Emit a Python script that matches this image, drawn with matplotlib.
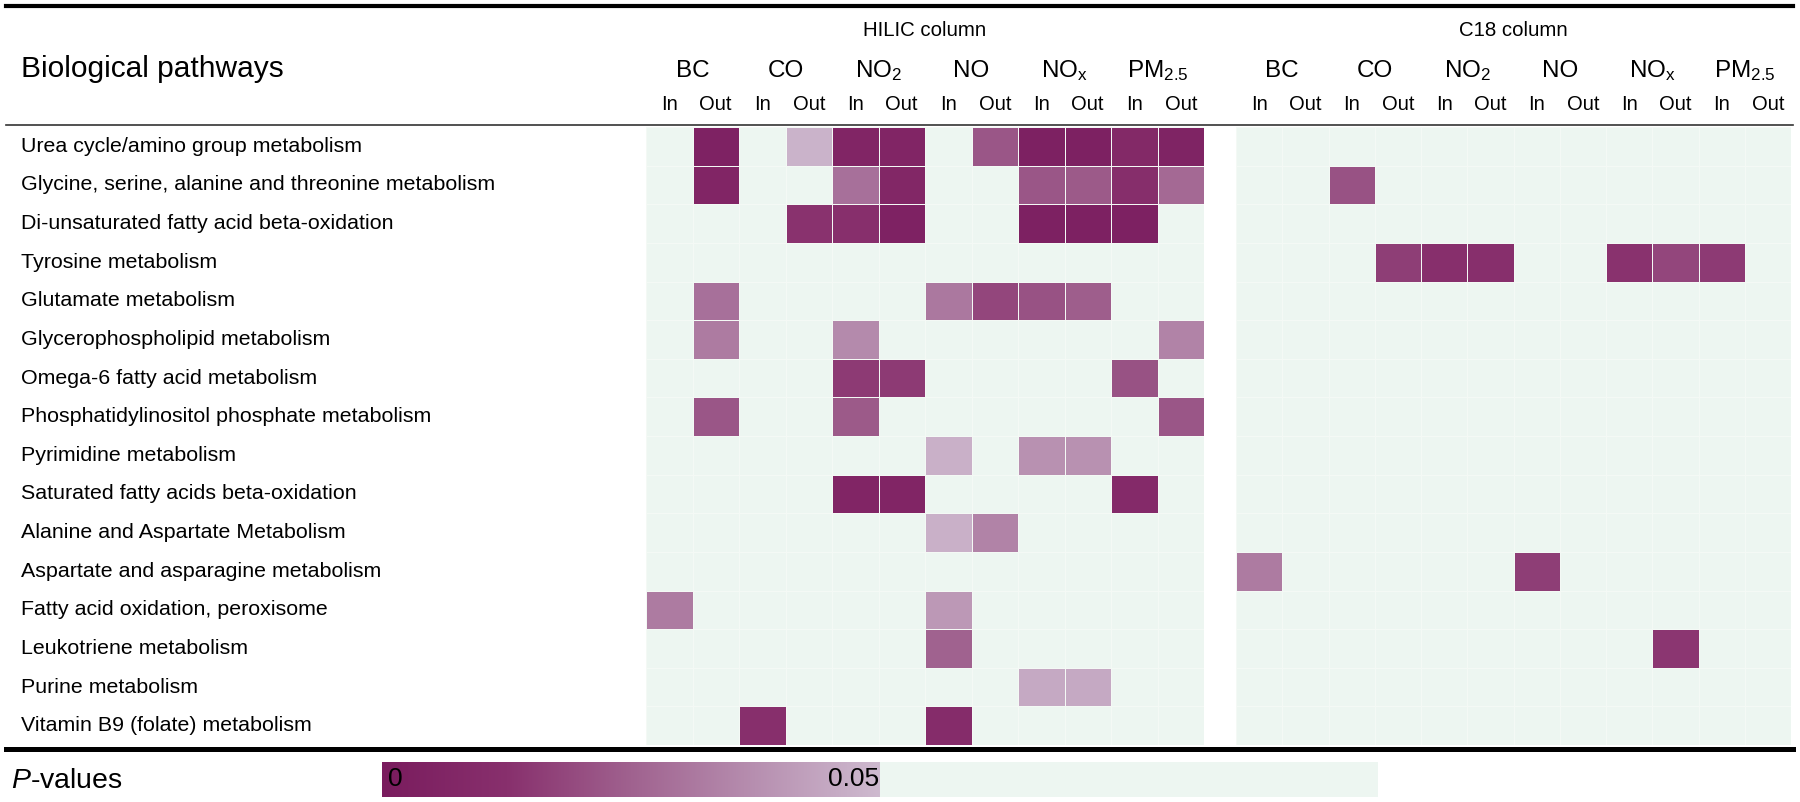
import numpy as np
import matplotlib.pyplot as plt
from matplotlib.colors import LinearSegmentedColormap
from matplotlib.transforms import blended_transform_factory
from matplotlib.lines import Line2D

plt.rcParams['font.family'] = ['Liberation Sans', 'DejaVu Sans']
plt.rcParams['mathtext.fontset'] = 'custom'
plt.rcParams['mathtext.rm'] = 'Liberation Sans'
plt.rcParams['mathtext.it'] = 'Liberation Sans:italic'
plt.rcParams['mathtext.default'] = 'regular'

pathways = [
    "Urea cycle/amino group metabolism",
    "Glycine, serine, alanine and threonine metabolism",
    "Di-unsaturated fatty acid beta-oxidation",
    "Tyrosine metabolism",
    "Glutamate metabolism",
    "Glycerophospholipid metabolism",
    "Omega-6 fatty acid metabolism",
    "Phosphatidylinositol phosphate metabolism",
    "Pyrimidine metabolism",
    "Saturated fatty acids beta-oxidation",
    "Alanine and Aspartate Metabolism",
    "Aspartate and asparagine metabolism",
    "Fatty acid oxidation, peroxisome",
    "Leukotriene metabolism",
    "Purine metabolism",
    "Vitamin B9 (folate) metabolism",
]
pollutants = ["BC", "CO", r"NO$_2$", "NO", r"NO$_x$", r"PM$_{2.5}$"]
exposure = ["In", "Out"]
columns = ["HILIC column", "C18 column"]

_ = np.nan
# P-values, columns: BC In/Out, CO In/Out, NO2 In/Out, NO In/Out, NOx In/Out, PM2.5 In/Out
hilic_p = [
    [_, .004, _, .048, .006, .006, _, .022, .003, .003, .008, .005],
    [_, .006, _, _, .029, .007, _, _, .022, .023, .011, .027],
    [_, _, _, .013, .012, .004, _, _, .003, .003, .003, _],
    [_, _, _, _, _, _, _, _, _, _, _, _],
    [_, .029, _, _, _, _, .031, .018, .021, .024, _, _],
    [_, .032, _, _, .036, _, _, _, _, _, _, .034],
    [_, _, _, _, .015, .015, _, _, _, _, .021, _],
    [_, .022, _, _, .023, _, _, _, _, _, _, .022],
    [_, _, _, _, _, _, .047, _, .038, .038, _, _],
    [_, _, _, _, .006, .006, _, _, _, _, .009, _],
    [_, _, _, _, _, _, .047, .034, _, _, _, _],
    [_, _, _, _, _, _, _, _, _, _, _, _],
    [.032, _, _, _, _, _, .040, _, _, _, _, _],
    [_, _, _, _, _, _, .025, _, _, _, _, _],
    [_, _, _, _, _, _, _, _, .045, .045, _, _],
    [_, _, .012, _, _, _, .010, _, _, _, _, _],
]
c18_p = [
    [_, _, _, _, _, _, _, _, _, _, _, _],
    [_, _, .021, _, _, _, _, _, _, _, _, _],
    [_, _, _, _, _, _, _, _, _, _, _, _],
    [_, _, _, .016, .012, .012, _, _, .013, .018, .015, _],
    [_, _, _, _, _, _, _, _, _, _, _, _],
    [_, _, _, _, _, _, _, _, _, _, _, _],
    [_, _, _, _, _, _, _, _, _, _, _, _],
    [_, _, _, _, _, _, _, _, _, _, _, _],
    [_, _, _, _, _, _, _, _, _, _, _, _],
    [_, _, _, _, _, _, _, _, _, _, _, _],
    [_, _, _, _, _, _, _, _, _, _, _, _],
    [.032, _, _, _, _, _, .016, _, _, _, _, _],
    [_, _, _, _, _, _, _, _, _, _, _, _],
    [_, _, _, _, _, _, _, _, _, .014, _, _],
    [_, _, _, _, _, _, _, _, _, _, _, _],
    [_, _, _, _, _, _, _, _, _, _, _, _],
]

mint = "#EDF6F1"
cmap = LinearSegmentedColormap.from_list(
    "pv", [(0, "#7A1C5E"), (0.25, "#88306D"), (0.5, "#A0628F"),
           (0.75, "#B78FB0"), (1, "#CEBACF")])
cmap.set_bad(mint)

W, H = 1800, 802
fig = plt.figure(figsize=(W / 100, H / 100), dpi=100)


def px_axes(x0, y0, x1, y1):
    return fig.add_axes([x0 / W, 1 - y1 / H, (x1 - x0) / W, (y1 - y0) / H])


top, bottom = 127, 745
blocks = [(hilic_p, 646, 1204), (c18_p, 1236, 1791)]
axes = []
for (data, x0, x1), title in zip(blocks, columns):
    ax = px_axes(x0, top, x1, bottom)
    arr = np.ma.masked_invalid(np.array(data, dtype=float))
    ax.pcolormesh(arr, cmap=cmap, vmin=0, vmax=0.05,
                  edgecolors="#F4F9F5", linewidth=0.5)
    ax.set_xlim(0, 12)
    ax.set_ylim(len(pathways), 0)
    ax.set_axis_off()
    tr = blended_transform_factory(ax.transData, fig.transFigure)
    ax.text(6, 1 - 30 / H, title, transform=tr, ha="center", va="center", fontsize=14.7)
    for g, name in enumerate(pollutants):
        ax.text(2 * g + 1, 1 - 71 / H, name, transform=tr, ha="center", va="center", fontsize=17.5)
        for k, e in enumerate(exposure):
            ax.text(2 * g + 0.5 + k, 1 - 105 / H, e, transform=tr, ha="center", va="center", fontsize=14.5)
    axes.append(ax)

tr_rows = blended_transform_factory(fig.transFigure, axes[0].transData)
for i, name in enumerate(pathways):
    axes[0].text(21 / W, i + 0.5, name, transform=tr_rows, ha="left", va="center", fontsize=15.4)

fig.text(21 / W, 1 - 69 / H, "Biological pathways", ha="left", va="center", fontsize=21.5)

# rules
fig.add_artist(Line2D([6 / W, 1793 / W], [1 - 6 / H] * 2, lw=3, color="black"))
fig.add_artist(Line2D([6 / W, 1793 / W], [1 - 125 / H] * 2, lw=1.2, color="#333333"))
fig.add_artist(Line2D([6 / W, 1793 / W], [1 - 749 / H] * 2, lw=3.6, color="black"))

# colour key
cb = px_axes(382, 762, 1378, 797)
grad = np.linspace(0, 0.05, 256)[None, :]
cb.imshow(grad, extent=[0, 0.05, 0, 1], aspect="auto", cmap=cmap, vmin=0, vmax=0.05)
cb.set_xlim(0, 0.1)
cb.set_ylim(0, 1)
cb.set_facecolor(mint)
cb.set_xticks([])
cb.set_yticks([])
for s in cb.spines.values():
    s.set_visible(False)
cb.text(0.0006, 0.5, "0", ha="left", va="center", fontsize=19)
cb.text(0.0499, 0.5, "0.05", ha="right", va="center", fontsize=19)
fig.text(11 / W, 1 - 781 / H, r"$\mathit{P}$-values", ha="left", va="center", fontsize=20.5)

fig.savefig("out.png", dpi=100)
